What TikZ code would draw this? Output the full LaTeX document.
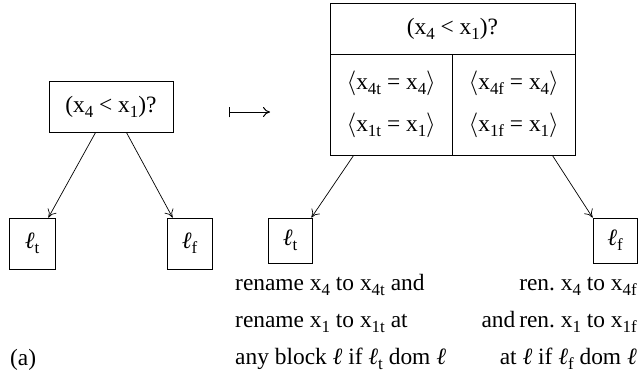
\documentclass[tikz,border=0pt]{standalone}
\usepackage{fontspec}
\setmainfont{Liberation Serif}
\usetikzlibrary{calc,arrows.meta}
\frenchspacing
\newcommand\subx[1]{\raisebox{-5bp}{\fontsize{17}{17}\selectfont #1}}
\newcommand\xv[1]{x\subx{#1}}
\newcommand\ellv{\textit{ℓ}}
\newcommand\lv[1]{\ellv\subx{#1}}
\tikzset{
  every node/.style={font=\fontsize{23.5}{28}\selectfont, inner sep=0pt},
  bx/.style={draw, line width=0.8pt},
  arr/.style={-{To[length=8pt,width=10pt]}, line width=0.7pt}
}
\begin{document}
\begin{tikzpicture}[x=1bp,y=-1bp]
\useasboundingbox (0,0) rectangle (639,383);
% left tree
\node[bx, minimum width=124bp, minimum height=51bp] (q) at (111,106.5) {(\xv{4} < \xv{1})?};
\node[bx, minimum width=46bp, minimum height=51bp] (lt) at (32,243.5) {\lv{t}};
\node[bx, minimum width=45bp, minimum height=51bp] (lf) at (189.5,243.5) {\lv{f}};
\draw[arr] ($(q.south west)+(47,0)$) -- ($(lt.north east)+(-7,0)$);
\draw[arr] ($(q.south east)+(-47,0)$) -- ($(lf.north west)+(6,0)$);
% mapsto
\coordinate (ms) at (229,112);
\coordinate (me) at (270,112);
\draw[{Bar[width=11pt]}-{To[length=7pt,width=10pt]}, line width=1pt] (ms) -- (me);
% table
\node[bx, minimum width=245bp, minimum height=51bp] (hd) at (452.5,28.5) {(\xv{4} < \xv{1})?};
\node[bx, minimum width=122.5bp, minimum height=101bp, align=center] (ct) at (391.25,104.5)
  {$\langle$\xv{4t} = \xv{4}$\rangle$\\[14pt]$\langle$\xv{1t} = \xv{1}$\rangle$};
\node[bx, minimum width=122.5bp, minimum height=101bp, align=center] (cf) at (513.75,104.5)
  {$\langle$\xv{4f} = \xv{4}$\rangle$\\[14pt]$\langle$\xv{1f} = \xv{1}$\rangle$};
\node[bx, minimum width=44bp, minimum height=45bp] (rt) at (290,240.5) {\lv{t}};
\node[bx, minimum width=44bp, minimum height=45bp] (rf) at (615,240.5) {\lv{f}};
\draw[arr] ($(ct.south west)+(24,0)$) -- ($(rt.north east)+(-1,0)$);
\draw[arr] ($(cf.south east)+(-23,0)$) -- ($(rf.north west)+(0,0)$);
% texts
\node[anchor=base west] (t1) at (235,290) {rename \xv{4} to \xv{4t} and};
\node[anchor=base west] (t2) at (235,327) {rename \xv{1} to \xv{1t} at};
\node[anchor=base west] (t3) at (235,364) {any block \ellv{} if \lv{t} dom \ellv};
\node[anchor=base east] (f1) at (637,290) {ren. \xv{4} to \xv{4f}};
\node[anchor=base east] (f2) at (637,327) {and\,ren. \xv{1} to \xv{1f}};
\node[anchor=base east] (f3) at (637,364) {at \ellv{} if \lv{f} dom \ellv};
\node[anchor=base west] (a) at (10,365) {(a)};
\end{tikzpicture}
\end{document}
